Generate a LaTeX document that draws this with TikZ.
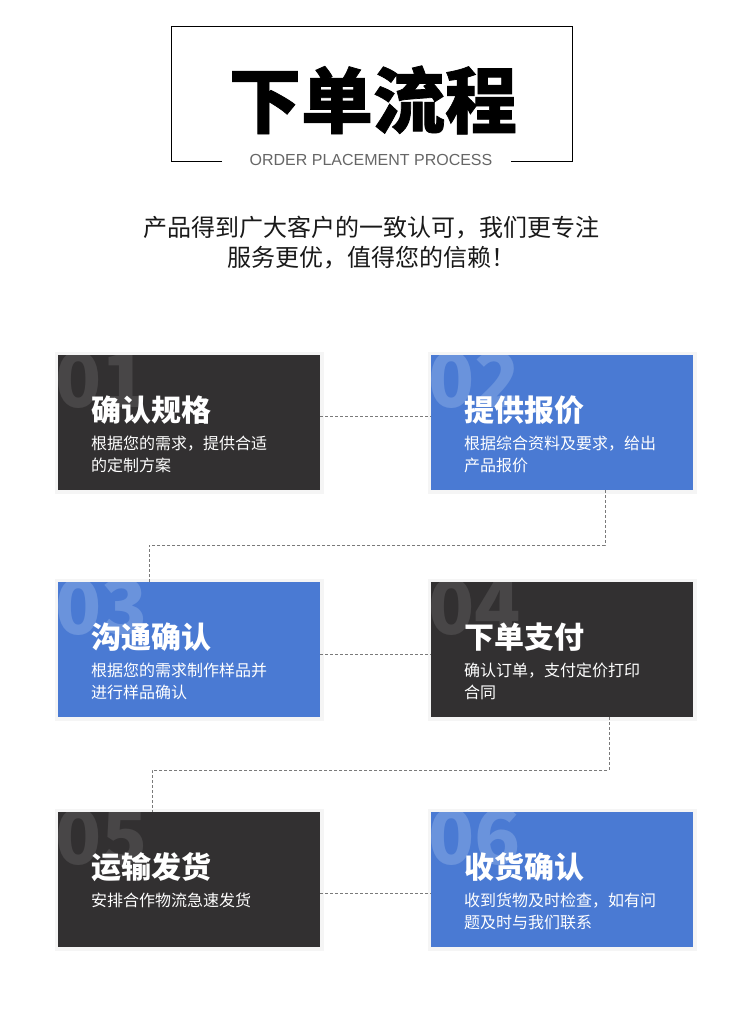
\documentclass[tikz,border=0pt]{standalone}
\usepackage{fontspec}
\setmainfont{Noto Sans CJK SC}
\newfontfamily\latinfont{Liberation Sans}
\newfontfamily\heavyfont{Noto Sans CJK SC}[BoldFeatures={FakeBold=1}]
\usepackage{tikz}
\usetikzlibrary{positioning,calc}

\definecolor{boxdark}{HTML}{323031}
\definecolor{boxblue}{HTML}{4A7AD3}
\definecolor{numdark}{HTML}{484647}
\definecolor{numblue}{HTML}{6A93DC}
\definecolor{linkgray}{HTML}{7A7A7A}

\tikzset{
    stepbox/.style={rectangle, minimum width=262pt, minimum height=135pt, inner sep=0pt, outer sep=0pt,
        preaction={draw=black!4, line width=7pt}},
    stepnum/.style={anchor=base west, inner sep=0pt, font=\fontsize{76}{76}\selectfont\bfseries},
    steptitle/.style={anchor=base west, inner sep=0pt, text=white, font=\fontsize{30}{30}\selectfont\bfseries},
    stepdesc/.style={anchor=base west, inner sep=0pt, text=white, align=left, font=\fontsize{16}{22}\selectfont},
    link/.style={draw=linkgray, dash pattern=on 3pt off 2pt, line width=1pt}
}

\begin{document}
\begin{tikzpicture}[x=1pt, y=-1pt]
    \fill[white] (0,0) rectangle (750,1020);
    \useasboundingbox (0,0) rectangle (750,1020);

    % Heading
    \draw[line width=1pt] (222,161) -- (171,161) -- (171,26) -- (572,26) -- (572,161) -- (511,161);
    \node[font=\heavyfont\fontsize{72}{72}\selectfont\bfseries] (title) at (373,100) {下单流程};
    \node[font=\latinfont\fontsize{16}{16}\selectfont, text=black!60] (eng) at (371,160) {ORDER PLACEMENT PROCESS};
    \node[align=center, text=black!90, font=\fontsize{24}{30}\selectfont] (intro) at (371,243)
        {产品得到广大客户的一致认可，我们更专注\\服务更优，值得您的信赖！};

    % Steps
    \foreach \n/\px/\py/\fc/\nc/\ttl/\dy/\desc in {
        1/189/422.5/boxdark/numdark/确认规格/116/{根据您的需求，提供合适\\的定制方案},
        2/562/422.5/boxblue/numblue/提供报价/116/{根据综合资料及要求，给出\\产品报价},
        3/189/649.5/boxblue/numblue/沟通确认/116/{根据您的需求制作样品并\\进行样品确认},
        4/562/649.5/boxdark/numdark/下单支付/116/{确认订单，支付定价打印\\合同},
        5/189/879.5/boxdark/numdark/运输发货/94/{安排合作物流急速发货},
        6/562/879.5/boxblue/numblue/收货确认/116/{收到货物及时检查，如有问\\题及时与我们联系}}
    {
        \node[stepbox, fill=\fc] (b\n) at (\px,\py) {};
        \begin{scope}
            \clip (b\n.south west) rectangle (b\n.north east);
            \node[stepnum, text=\nc] (n\n) at ($(b\n.north west)+(-3,52)$) {0\n};
        \end{scope}
        \node[steptitle] (t\n) at ($(b\n.north west)+(33,66)$) {\ttl};
        \node[stepdesc] (d\n) at ($(b\n.north west)+(33,\dy)$) {\desc};
    }

    % Connections
    \draw[link] ([yshift=6pt]b1.east) -- ([yshift=6pt]b2.west);
    \draw[link] ([xshift=43pt]b2.south) -- ++(0,55) -| ([xshift=-40pt]b3.north);
    \draw[link] ([yshift=-5pt]b3.east) -- ([yshift=-5pt]b4.west);
    \draw[link] ([xshift=47pt]b4.south) -- ++(0,53) -| ([xshift=-37pt]b5.north);
    \draw[link] ([yshift=-14pt]b5.east) -- ([yshift=-14pt]b6.west);
\end{tikzpicture}
\end{document}
